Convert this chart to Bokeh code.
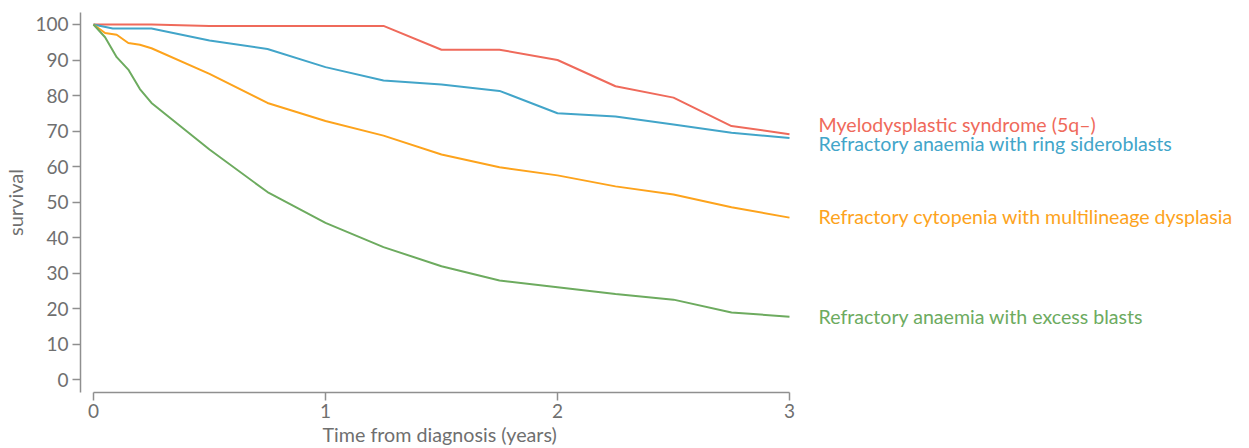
from bokeh.plotting import figure
from bokeh.models import Range1d, FixedTicker, Title
from bokeh.core.properties import value
from bokeh.embed import file_html
from bokeh.resources import INLINE

# --- data (years from diagnosis, survival %) ---
t_5q = [0, 0.25, 0.5, 0.75, 1.0, 1.25, 1.5, 1.75, 2.0, 2.25, 2.5, 2.75, 3.0]
v_5q = [100, 100, 99.6, 99.6, 99.6, 99.6, 92.9, 92.9, 90.0, 82.6, 79.4, 71.4, 69.1]

t_rs = [0, 0.083, 0.25, 0.5, 0.75, 1.0, 1.25, 1.5, 1.75, 2.0, 2.25, 2.5, 2.75, 3.0]
v_rs = [100, 98.9, 98.9, 95.5, 93.1, 88.0, 84.2, 83.1, 81.3, 75.0, 74.1, 71.8, 69.5, 68.0]

t_md = [0, 0.05, 0.1, 0.15, 0.2, 0.25, 0.5, 0.75, 1.0, 1.25, 1.5, 1.75, 2.0, 2.25, 2.5, 2.75, 3.0]
v_md = [100, 97.6, 97.1, 94.8, 94.3, 93.3, 86.1, 77.9, 72.8, 68.7, 63.4, 59.8, 57.5, 54.4, 52.1, 48.5, 45.6]

t_eb = [0, 0.05, 0.1, 0.15, 0.2, 0.25, 0.5, 0.75, 1.0, 1.25, 1.5, 1.75, 2.0, 2.25, 2.5, 2.75, 3.0]
v_eb = [100, 96.4, 90.8, 87.3, 81.8, 77.9, 64.8, 52.8, 44.1, 37.3, 31.9, 27.9, 26.0, 24.1, 22.5, 18.9, 17.7]

names = [
    "Myelodysplastic syndrome (5q\u2013)",
    "Refractory anaemia with ring sideroblasts",
    "Refractory cytopenia with multilineage dysplasia",
    "Refractory anaemia with excess blasts",
]
colors = ["#ef6a5b", "#42a5c9", "#fda31c", "#6dab5f"]
label_x = 3.125
label_y = [71.8, 66.5, 45.9, 17.7]

x_ticks = [0, 1, 2, 3]
y_ticks = [0, 10, 20, 30, 40, 50, 60, 70, 80, 90, 100]

FONT = "Lato"
GRAY_AX = "#8f8f8f"
GRAY_TX = "#6f6f6f"

p = figure(frame_width=1160, frame_height=380, output_backend="svg", toolbar_location=None,
           x_range=Range1d(-0.056, 4.944), y_range=Range1d(-3.66, 103.38),
           min_border_left=60, min_border_right=1, min_border_top=12, min_border_bottom=6)
p.outline_line_color = None
p.grid.grid_line_color = None

for t, v, c in zip([t_5q, t_rs, t_md, t_eb], [v_5q, v_rs, v_md, v_eb], colors):
    p.line(t, v, line_color=c, line_width=2)

p.text(x=[label_x] * 4, y=label_y, text=names, text_color=colors,
       text_font=value(FONT), text_font_size="19.6px",
       text_baseline="middle", text_align="left")

xa = p.xaxis[0]
xa.ticker = FixedTicker(ticks=x_ticks)
xa.bounds = (0, 3)
ya = p.yaxis[0]
ya.ticker = FixedTicker(ticks=y_ticks)
ya.axis_label = "survival"

for ax in (xa, ya):
    ax.axis_line_color = GRAY_AX
    ax.axis_line_width = 1.5
    ax.major_tick_line_color = GRAY_AX
    ax.major_tick_line_width = 1.5
    ax.major_tick_out = 8
    ax.major_tick_in = 0
    ax.minor_tick_line_color = None
    ax.major_label_text_color = GRAY_TX
    ax.major_label_text_font = FONT
    ax.major_label_text_font_size = "19px"
    ax.axis_label_text_color = GRAY_TX
    ax.axis_label_text_font = FONT
    ax.axis_label_text_font_size = "20px"
    ax.axis_label_text_font_style = "normal"
xa.major_label_standoff = 3
ya.major_label_standoff = 4
ya.axis_label_standoff = 5

p.add_layout(Title(text="Time from diagnosis (years)", align="left", offset=242,
                   text_font=FONT, text_font_size="19.7px", text_font_style="normal",
                   text_color=GRAY_TX, standoff=0), "below")

open("out.html", "w").write(file_html(p, INLINE))
